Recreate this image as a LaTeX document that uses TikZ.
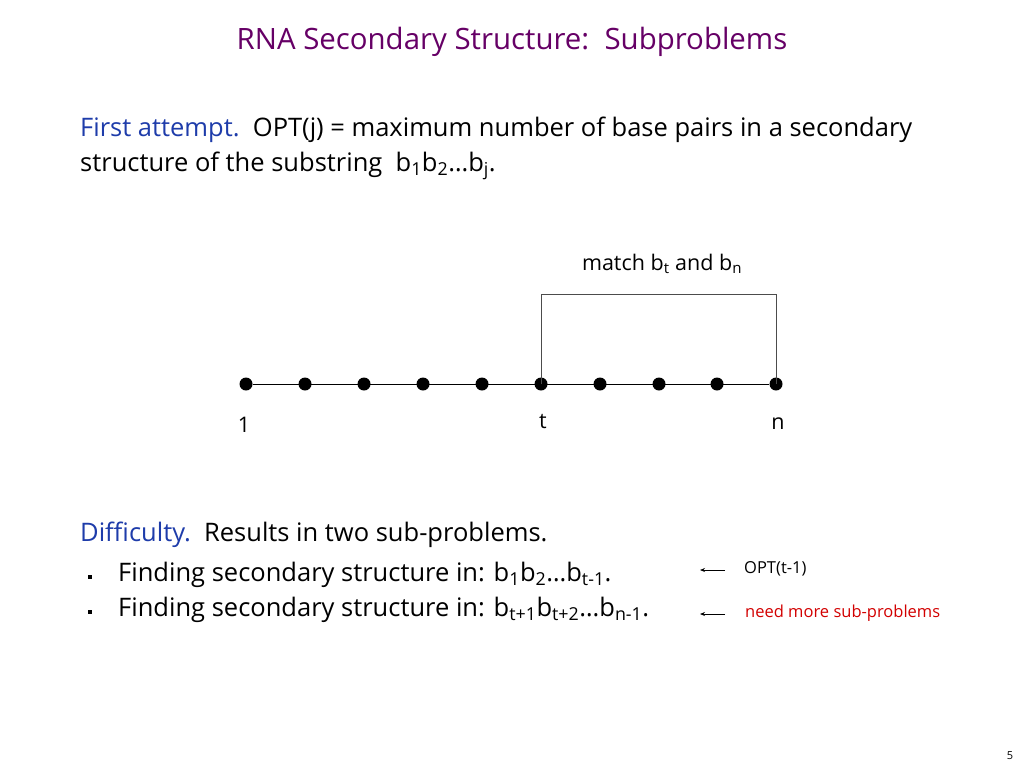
\documentclass[tikz,border=0pt]{standalone}
\usepackage{fontspec}
\setmainfont{Open Sans}
\usetikzlibrary{arrows.meta}
\definecolor{titlepurple}{RGB}{102,0,102}
\definecolor{headblue}{RGB}{30,60,170}
\definecolor{notered}{RGB}{210,0,0}
\begin{document}
\begin{tikzpicture}[x=1pt,y=-1pt,
  txt/.style={anchor=base west,inner sep=0pt,font=\fontsize{25.5}{30}\selectfont},
  dot/.style={circle,fill=black,inner sep=0pt,minimum size=13pt},
  lbl/.style={inner sep=0pt,font=\fontsize{21.5}{26}\selectfont},
  note/.style={anchor=base west,inner sep=0pt,font=\fontsize{16.5}{20}\selectfont},
  bul/.style={rectangle,fill=black,inner sep=0pt,minimum size=4pt},
  back/.style={-{Stealth[length=5pt,width=4pt]},line width=0.9pt}]
\useasboundingbox (0,0) rectangle (1024,768);
% title
\node[inner sep=0pt,anchor=base,text=titlepurple,font=\fontsize{29.4}{34}\selectfont] (title) at (512,49) {RNA Secondary Structure:\ \ Subproblems};
% first attempt
\node[txt] (fa1) at (80,136) {\textcolor{headblue}{First attempt.}\ \ OPT(j) = maximum number of base pairs in a secondary};
\node[txt] (fa2) at (80,171) {structure of the substring\ \ b\textsubscript{1}b\textsubscript{2}…b\textsubscript{j}.};
% chain
\foreach \i/\x in {1/246,2/305,3/364,4/423,5/482,6/541,7/600,8/659,9/717,10/776}
  \node[dot] (d\i) at (\x,384) {};
\draw[line width=0.9pt] (d1) -- (d10);
\coordinate (bl) at (541,294);
\coordinate (br) at (776,294);
\draw[line width=0.9pt,black!70] (d6.center) -- (bl) -- (br) -- (d10.center);
\node[lbl,anchor=base] (match) at (662,270) {match b\textsubscript{t} and b\textsubscript{n}};
\node[lbl,anchor=base] (l1) at (244,432) {1};
\node[lbl,anchor=base] (lt) at (543,428) {t};
\node[lbl,anchor=base] (ln) at (778,429) {n};
% difficulty
\node[txt] (df) at (80,541) {\textcolor{headblue}{Difficulty.}\ \ Results in two sub-problems.};
\node[bul] (b1) at (90,577) {};
\node[bul] (b2) at (90,612) {};
\node[txt] (s1) at (118,581) {Finding secondary structure in: b\textsubscript{1}b\textsubscript{2}…b\textsubscript{t-1}.};
\node[txt] (s2) at (118,616) {Finding secondary structure in: b\textsubscript{t+1}b\textsubscript{t+2}…b\textsubscript{n-1}.};
\node[note] (o1) at (744,573) {OPT(t-1)};
\node[note,text=notered] (o2) at (745,617) {need more sub-problems};
\coordinate (a1s) at (725,570);
\coordinate (a1e) at (700,570);
\coordinate (a2s) at (725,614);
\coordinate (a2e) at (700,614);
\draw[back] (a1s) -- (a1e);
\draw[back] (a2s) -- (a2e);
\node[inner sep=0pt,anchor=base,font=\fontsize{11}{13}\selectfont] (pg) at (1010,759) {5};
\end{tikzpicture}
\end{document}
